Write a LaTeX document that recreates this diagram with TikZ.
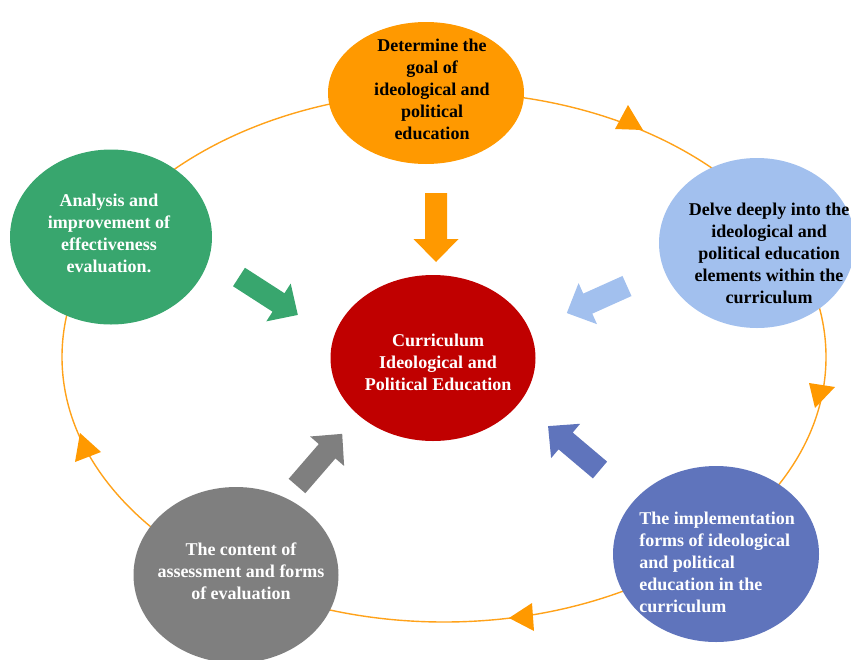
\documentclass[tikz,border=0pt]{standalone}
\usepackage{fontspec}
\setmainfont{Liberation Serif}
\usetikzlibrary{shapes.geometric,calc}
\definecolor{cOrange}{HTML}{FF9900}
\definecolor{cRing}{HTML}{FFA21A}
\definecolor{cGreen}{HTML}{38A66E}
\definecolor{cLBlue}{HTML}{A2C0EE}
\definecolor{cRed}{HTML}{C00000}
\definecolor{cBlue}{HTML}{5F74BC}
\definecolor{cGray}{HTML}{7F7F7F}
\tikzset{
  bubble/.style={ellipse, inner sep=0pt},
  txt/.style={font=\fontsize{18}{22}\selectfont\bfseries, align=center, inner sep=0pt},
  ring/.style={draw=cRing, line width=1.4pt},
  tri/.style={fill=cOrange},
}
\newcommand\blockarr[4]{%
  \fill[#4, shift={#1}, rotate=#2] (0,-11) -- (#3-23,-11) -- (#3-23,-22.5) -- (#3,0) -- (#3-23,22.5) -- (#3-23,11) -- (0,11) -- cycle;}
\begin{document}
\begin{tikzpicture}[x=1pt,y=-1pt]
\useasboundingbox (0,0) rectangle (851,659);
\clip (0,0) rectangle (851,659);
% ring
\draw[ring] (444,357) ellipse [x radius=382, y radius=265];
\fill[tri] (628,105) -- (615,129) -- (643,130) -- cycle;
\fill[tri] (809,383) -- (835,387) -- (815,408) -- cycle;
\fill[tri] (509,618) -- (532,603) -- (534,631) -- cycle;
\fill[tri] (80,433) -- (101,452) -- (75,462) -- cycle;
% ellipses
\node[bubble, fill=cOrange, minimum width=196pt, minimum height=142pt] (top) at (426,93) {};
\node[bubble, fill=cGreen, minimum width=202pt, minimum height=175pt] (left) at (111,237) {};
\node[bubble, fill=cLBlue, minimum width=196pt, minimum height=170pt] (right) at (757,243) {};
\node[bubble, fill=cRed, minimum width=205pt, minimum height=166pt] (center) at (433,358) {};
\node[bubble, fill=cBlue, minimum width=206pt, minimum height=176pt] (br) at (716,554) {};
\node[bubble, fill=cGray, minimum width=205pt, minimum height=176pt] (bl) at (236,575) {};
% texts
\node[txt, text=black] (ttop) at ($(top.center)+(6,-4)$) {Determine the\\goal of\\ideological and\\political\\education};
\node[txt, text=white] (tleft) at ($(left.center)+(-2,-4)$) {Analysis and\\improvement of\\effectiveness\\evaluation.};
\node[txt, text=black] (tright) at ($(right.center)+(12,10)$) {Delve deeply into the\\ideological and\\political education\\elements within the\\curriculum};
\node[txt, text=white] (tcenter) at ($(center.center)+(5,4)$) {Curriculum\\Ideological and\\Political Education};
\node[txt, text=white, align=left] (tbr) at ($(br.center)+(1,8)$) {The implementation\\forms of ideological\\and political\\education in the\\curriculum};
\node[txt, text=white] (tbl) at ($(bl.center)+(5,-4)$) {The content of\\assessment and forms\\of evaluation};
% block arrows
\coordinate (aTop) at (436,193);
\coordinate (aLeft) at (239,277);
\coordinate (aRight) at (627,286);
\coordinate (aBR) at (600,470);
\coordinate (aBL) at (297,486);
\blockarr{(aTop)}{-90}{69}{cOrange}
\blockarr{(aLeft)}{-32.8}{70}{cGreen}
\blockarr{(aRight)}{204.2}{66}{cLBlue}
\blockarr{(aBR)}{139.8}{68}{cBlue}
\blockarr{(aBL)}{49.1}{69}{cGray}
\end{tikzpicture}
\end{document}
